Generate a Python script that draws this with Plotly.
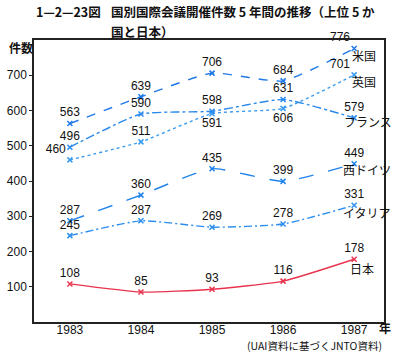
import plotly.graph_objects as go

years = [1983, 1984, 1985, 1986, 1987]
usa = [563, 639, 706, 684, 776]
uk = [460, 511, 591, 606, 701]
france = [496, 590, 598, 631, 579]
wgermany = [287, 360, 435, 399, 449]
italy = [245, 287, 269, 278, 331]
japan = [108, 85, 93, 116, 178]
names = ["米国", "英国", "フランス", "西ドイツ", "イタリア", "日本"]
y_ticks = [100, 200, 300, 400, 500, 600, 700]

num_font = "Liberation Sans Narrow, Arial Narrow, Liberation Sans, Arial"
jp_font = "Noto Sans CJK JP"

series = [
    (usa, "#1f78e6", "dash", ["top center"] * 4 + ["top left"]),
    (uk, "#3a9cf0", "dot", ["top left", "top center", "bottom center", "bottom center", "top left"]),
    (france, "#2a8aec", "dashdot", ["top center"] * 5),
    (wgermany, "#2284ea", "longdash", ["top center"] * 5),
    (italy, "#2d8fee", "8px,3px,2px,3px", ["top center"] * 5),
    (japan, "#e8344e", "solid", ["top center"] * 5),
]

fig = go.Figure()
for (vals, color, dash, tpos), name in zip(series, names):
    fig.add_trace(go.Scatter(
        x=years, y=vals, name=name,
        mode="lines+markers+text",
        line=dict(color=color, width=1.4, dash=dash, shape="spline", smoothing=0.5),
        marker=dict(symbol="x-thin", size=5, color=color, line=dict(color=color, width=1.5)),
        text=[str(v) for v in vals],
        textposition=tpos,
        textfont=dict(family=num_font, size=12, color="#111"),
        showlegend=False,
        cliponaxis=False,
    ))

# series name labels at right
label_offsets = {"米国": (10, -7), "英国": (10, -7), "フランス": (14, -4),
                 "西ドイツ": (13, -6), "イタリア": (13, -7), "日本": (8, -9)}
for vals, name in zip([usa, uk, france, wgermany, italy, japan], names):
    dx, dy = label_offsets[name]
    fig.add_annotation(x=years[-1], y=vals[-1], text=name, showarrow=False,
                       xanchor="center", yanchor="middle",
                       xshift=dx, yshift=dy, font=dict(family=jp_font, size=12, color="#111"))

# titles
title_font = dict(family=jp_font, size=12.5, color="#111")
fig.add_annotation(xref="paper", yref="paper", x=0.0, y=1.0, yshift=29, xanchor="left",
                   yanchor="middle", text="<b>1—2—23図</b>", showarrow=False, font=title_font)
fig.add_annotation(xref="paper", yref="paper", x=0.213, y=1.0, yshift=29, xanchor="left",
                   yanchor="middle", text="<b>国別国際会議開催件数 5 年間の推移（上位 5 か</b>",
                   showarrow=False, font=title_font)
fig.add_annotation(xref="paper", yref="paper", x=0.213, y=1.0, yshift=9, xanchor="left",
                   yanchor="middle", text="<b>国と日本）</b>", showarrow=False, font=title_font)
fig.add_annotation(xref="paper", yref="paper", x=0, y=1.0, xshift=-13, yshift=-7,
                   xanchor="center", yanchor="middle",
                   text="<b>件数</b>", showarrow=False,
                   font=dict(family=jp_font, size=12, color="#111"))
fig.add_annotation(xref="paper", yref="paper", x=1.0, y=0, xshift=1, yshift=-5,
                   xanchor="center", yanchor="middle",
                   text="<b>年</b>", showarrow=False,
                   font=dict(family=jp_font, size=12, color="#111"))
fig.add_annotation(xref="paper", yref="paper", x=1.0, y=0, xanchor="right", yanchor="middle",
                   yshift=-23, text="(UAI資料に基づくJNTO資料)", showarrow=False,
                   font=dict(family=jp_font, size=10.5, color="#111"))

fig.update_layout(
    width=393, height=352,
    margin=dict(l=25, r=7, t=40, b=30),
    paper_bgcolor="white", plot_bgcolor="white",
    xaxis=dict(range=[1982.495, 1987.42], tickvals=years, showgrid=False, zeroline=False,
               showline=True, linecolor="#222", linewidth=1.5, mirror=True, ticks="",
               ticklabelstandoff=-4,
               tickfont=dict(family=num_font, size=12, color="#111")),
    yaxis=dict(range=[0, 800], tickvals=y_ticks, showgrid=False, zeroline=False,
               showline=True, linecolor="#222", linewidth=1.5, mirror=True,
               ticks="outside", ticklen=3, tickcolor="#222",
               tickfont=dict(family=num_font, size=12, color="#111")),
)

fig.write_html("out.html")
